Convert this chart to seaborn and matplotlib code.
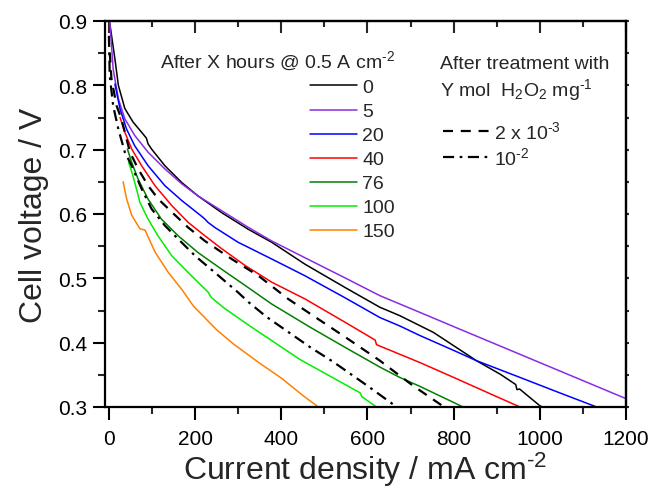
import numpy as np
import pandas as pd
import matplotlib
matplotlib.use("Agg")
import matplotlib.pyplot as plt
from matplotlib.ticker import MultipleLocator
import seaborn as sns

# ---------------- data ----------------
hours_labels = ["0", "5", "20", "40", "76", "100", "150"]
hours_colors = ["#000000", "#8a2be2", "#0000ff", "#ff0000", "#008000", "#00ee00", "#ff8000"]

x_0 = [2, 14, 22, 37, 56, 76, 87, 91, 99, 130, 169, 207, 262, 324, 378, 455, 550, 629, 675, 753, 853, 908, 944, 947, 953, 1000, 1006]
v_0 = [0.897, 0.841, 0.80, 0.764, 0.743, 0.727, 0.718, 0.709, 0.701, 0.675, 0.649, 0.628, 0.602, 0.576, 0.556, 0.522, 0.485, 0.455, 0.442, 0.416, 0.372, 0.351, 0.335, 0.327, 0.328, 0.302, 0.3]

x_5 = [2, 10, 22, 37, 60, 91, 130, 169, 207, 262, 324, 378, 455, 550, 629, 722, 800, 900, 1000, 1100, 1200]
v_5 = [0.9, 0.825, 0.779, 0.748, 0.722, 0.696, 0.670, 0.647, 0.628, 0.605, 0.579, 0.558, 0.532, 0.500, 0.473, 0.447, 0.425, 0.397, 0.369, 0.341, 0.313]

x_20 = [14, 26, 41, 60, 91, 130, 169, 218, 223, 230, 246, 300, 378, 455, 550, 629, 675, 722, 800, 853, 950, 1050, 1132]
v_20 = [0.802, 0.763, 0.732, 0.706, 0.675, 0.644, 0.621, 0.595, 0.592, 0.587, 0.579, 0.556, 0.530, 0.504, 0.469, 0.439, 0.426, 0.411, 0.388, 0.372, 0.347, 0.321, 0.3]

x_40 = [26, 37, 53, 76, 107, 146, 184, 223, 262, 316, 378, 455, 550, 618, 621, 624, 675, 722, 800, 880, 954]
v_40 = [0.750, 0.727, 0.701, 0.675, 0.644, 0.613, 0.587, 0.566, 0.546, 0.520, 0.494, 0.468, 0.431, 0.404, 0.397, 0.396, 0.382, 0.369, 0.346, 0.322, 0.3]

x_76 = [43, 53, 68, 91, 122, 161, 207, 262, 316, 378, 467, 550, 629, 675, 722, 822]
v_76 = [0.701, 0.680, 0.654, 0.623, 0.592, 0.566, 0.540, 0.514, 0.489, 0.460, 0.424, 0.392, 0.362, 0.346, 0.332, 0.3]

x_100 = [46, 56, 64, 72, 91, 114, 146, 184, 231, 235, 238, 269, 327, 443, 583, 587, 621]
v_100 = [0.680, 0.659, 0.639, 0.618, 0.592, 0.566, 0.535, 0.509, 0.478, 0.473, 0.470, 0.453, 0.426, 0.374, 0.322, 0.316, 0.3]

x_150 = [33, 41, 53, 72, 84, 88, 107, 138, 169, 196, 250, 289, 350, 400, 450, 486]
v_150 = [0.650, 0.624, 0.598, 0.577, 0.575, 0.569, 0.541, 0.509, 0.483, 0.457, 0.420, 0.398, 0.368, 0.345, 0.318, 0.3]

treat_labels = ["2 x 10$^{\u20103}$", "10$^{\u20102}$"]

x_t1 = [2, 6, 18, 29, 49, 68, 91, 115, 146, 184, 223, 285, 347, 416, 467, 550, 629, 706, 778]
v_t1 = [0.851, 0.81, 0.768, 0.748, 0.696, 0.670, 0.644, 0.623, 0.603, 0.579, 0.558, 0.530, 0.504, 0.468, 0.445, 0.408, 0.372, 0.333, 0.3]

x_t2 = [0, 2, 10, 22, 37, 53, 76, 99, 130, 161, 200, 246, 300, 324, 366, 467, 521, 600, 668]
v_t2 = [0.877, 0.815, 0.768, 0.732, 0.696, 0.675, 0.639, 0.608, 0.582, 0.561, 0.535, 0.509, 0.478, 0.463, 0.440, 0.393, 0.370, 0.333, 0.3]

hours_x = [x_0, x_5, x_20, x_40, x_76, x_100, x_150]
hours_v = [v_0, v_5, v_20, v_40, v_76, v_100, v_150]
treat_x = [x_t1, x_t2]
treat_v = [v_t1, v_t2]

# ---------------- style ----------------
sns.set_style("white")
plt.rcParams["font.family"] = ["Liberation Sans", "DejaVu Sans"]
plt.rcParams["mathtext.fontset"] = "custom"
plt.rcParams["mathtext.rm"] = "Liberation Sans"
plt.rcParams["mathtext.it"] = "Liberation Sans:italic"
plt.rcParams["mathtext.bf"] = "Liberation Sans:bold"

fig = plt.figure(figsize=(6.5, 4.89), dpi=100)
ax = fig.add_axes([105 / 650, 1 - 408 / 489, (626 - 105) / 650, (408 - 22) / 489])

hour_handles = []
for lab, col, xs, vs in zip(hours_labels, hours_colors, hours_x, hours_v):
    df = pd.DataFrame({"j": xs, "V": vs})
    sns.lineplot(data=df, x="j", y="V", ax=ax, color=col, lw=1.1,
                 sort=False, estimator=None, legend=False)
    hour_handles.append(ax.lines[-1])

treat_styles = [(0, (4.5, 3.5)), (0, (5, 2.5, 1.2, 2.5))]
treat_handles = []
for lab, ls, xs, vs in zip(treat_labels, treat_styles, treat_x, treat_v):
    df = pd.DataFrame({"j": xs, "V": vs})
    sns.lineplot(data=df, x="j", y="V", ax=ax, color="black", lw=1.6,
                 sort=False, estimator=None, legend=False)
    ax.lines[-1].set_linestyle(ls)
    treat_handles.append(ax.lines[-1])

ax.set_xlim(-9, 1200)
ax.set_ylim(0.3, 0.9)
ax.set_xticks(np.arange(0, 1201, 200))
ax.set_yticks(np.round(np.arange(0.3, 0.901, 0.1), 1))
ax.set_yticklabels([f"{v:.1f}" for v in np.arange(0.3, 0.901, 0.1)])
ax.xaxis.set_minor_locator(MultipleLocator(100))
ax.yaxis.set_minor_locator(MultipleLocator(0.05))
ax.tick_params(axis="both", which="major", direction="out", length=9, width=1.5,
               labelsize=15, colors="black", bottom=True, left=True, top=False, right=False)
ax.tick_params(axis="x", which="major", pad=7)
ax.tick_params(axis="y", which="major", pad=4)
ax.tick_params(axis="both", which="minor", direction="out", length=5, width=1.5,
               bottom=True, left=True, top=False, right=False)
for s in ax.spines.values():
    s.set_linewidth(1.6)
    s.set_color("black")

sec_x = ax.secondary_xaxis("top")
sec_x.set_xticks(np.arange(0, 1201, 200))
sec_x.xaxis.set_minor_locator(MultipleLocator(100))
sec_x.tick_params(which="major", direction="in", length=8.5, width=1.5, labeltop=False)
sec_x.tick_params(which="minor", direction="in", length=4.5, width=1.5)
sec_x.spines["top"].set_linewidth(1.6)

sec_y = ax.secondary_yaxis("right")
sec_y.set_yticks(np.arange(0.3, 0.901, 0.1))
sec_y.yaxis.set_minor_locator(MultipleLocator(0.05))
sec_y.tick_params(which="both", direction="out", length=2.5, width=1.5, labelright=False)
sec_y.spines["right"].set_linewidth(1.6)

ax.set_xlabel("Current density / mA cm$^{\u20102}$", fontsize=23, labelpad=1)
ax.set_ylabel("Cell voltage / V", fontsize=23, labelpad=6)

leg1 = ax.legend(hour_handles, hours_labels, title="After X hours @ 0.5 A cm$^{\u20102}$",
                 loc="upper right", bbox_to_anchor=(395 / 650, 1 - 50 / 489),
                 bbox_transform=fig.transFigure, frameon=False, fontsize=14,
                 title_fontsize=14, alignment="right", handlelength=2.4,
                 handletextpad=0.3, labelspacing=0.33, borderpad=0, borderaxespad=0)
ax.add_artist(leg1)

fig.text(440 / 650, 1 - 69 / 489, "After treatment with", fontsize=14, va="baseline", ha="left")
fig.text(440 / 650, 1 - 96 / 489, "Y mol  H$_2$O$_2$ mg$^{\u20101}$", fontsize=14, va="baseline", ha="left")

leg2 = ax.legend(treat_handles, treat_labels,
                 loc="upper left", bbox_to_anchor=(443 / 650, 1 - 121 / 489),
                 bbox_transform=fig.transFigure, frameon=False, fontsize=14,
                 handlelength=2.5, handletextpad=0.1, labelspacing=0.2,
                 borderpad=0, borderaxespad=0)

fig.savefig("out.png", dpi=100)
